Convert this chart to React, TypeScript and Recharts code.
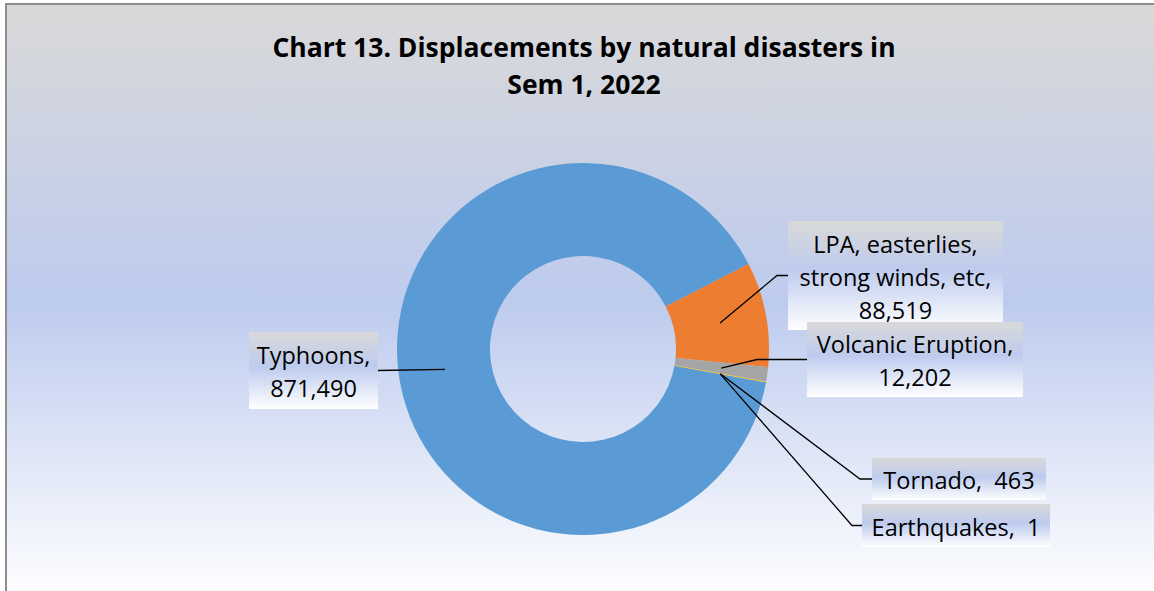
import React from "react";
import { PieChart, Pie, Cell } from "recharts";

const CATEGORY_LINES = [
  ["Typhoons"],
  ["LPA, easterlies", "strong winds, etc"],
  ["Volcanic Eruption"],
  ["Tornado"],
  ["Earthquakes"],
];
const CATEGORIES = CATEGORY_LINES.map((l) => l.join(", "));
const VALUES = [871490, 88519, 12202, 463, 1];
const COLORS = ["#5B9BD5", "#ED7D31", "#A5A5A5", "#FFC000", "#4472C4"];

const TITLE = ["Chart 13. Displacements by natural disasters in", "Sem 1, 2022"];

// label box layout, chart coordinates
const LABEL_BOXES = [
  { x: 242, y: 327, w: 129, h: 77, side: "right", elbow: 0, inline: false },
  { x: 781, y: 216, w: 215, h: 109, side: "left", elbow: 11, inline: false },
  { x: 800, y: 317, w: 216, h: 75, side: "left", elbow: 50, inline: false },
  { x: 865, y: 453, w: 174, h: 42, side: "left", elbow: 12, inline: true },
  { x: 855, y: 499, w: 188, h: 43, side: "left", elbow: 10, inline: true },
];

const W = 1152;
const H = 590;
const FONT = "'Open Sans', sans-serif";
const RAD = Math.PI / 180;

const data = CATEGORIES.map((name, i) => ({ name, value: VALUES[i] }));

function renderLabel(props: any) {
  const { cx, cy, midAngle, innerRadius, outerRadius, index, value } = props;
  const box = LABEL_BOXES[index];
  const r = (innerRadius + outerRadius) / 2;
  const ax = cx + r * Math.cos(-midAngle * RAD);
  const ay = cy + r * Math.sin(-midAngle * RAD);
  const ly = box.y + box.h / 2;
  const lx = box.side === "left" ? box.x : box.x + box.w;
  const ex = box.side === "left" ? lx - box.elbow : lx + box.elbow;

  const valueText = value.toLocaleString("en-US");
  const nameLines = CATEGORY_LINES[index].map((l) => l + ",");
  const lines = box.inline
    ? [nameLines.join(" ") + "  " + valueText]
    : [...nameLines, valueText];
  const lh = 33;
  const first = ly - ((lines.length - 1) * lh) / 2 + 1;

  return (
    <g key={`lbl-${index}`}>
      <polyline
        points={`${lx},${ly} ${ex},${ly} ${ax},${ay}`}
        fill="none"
        stroke="#000"
        strokeWidth={1.3}
      />
      <rect x={box.x} y={box.y} width={box.w} height={box.h} fill="url(#boxGrad)" />
      {lines.map((t, i) => (
        <text
          key={i}
          x={box.x + box.w / 2}
          y={first + i * lh}
          textAnchor="middle"
          dominantBaseline="central"
          fontFamily={FONT}
          fontSize={23.5}
          fill="#000"
          style={{ whiteSpace: "pre" }}
        >
          {t}
        </text>
      ))}
    </g>
  );
}

export default function App() {
  return (
    <div
      style={{
        position: "fixed",
        left: 0,
        top: 0,
        width: 1154,
        height: 591,
        overflow: "hidden",
        background: "#fff",
      }}
    >
      <div
        style={{
          position: "absolute",
          left: 5,
          top: 3,
          width: W + 4,
          height: H + 4,
          border: "2px solid #8E8E8E",
          background:
            "linear-gradient(to bottom, #D9D9D9 0%, #BDCBEE 50%, #FFFFFF 100%)",
        }}
      >
        <PieChart
          width={W}
          height={H}
          margin={{ top: 0, right: 0, bottom: 0, left: 0 }}
          style={{ position: "absolute", left: 0, top: 0 }}
        >
          <defs>
            <linearGradient id="boxGrad" x1="0" y1="0" x2="0" y2="1">
              <stop offset="0%" stopColor="#D9D9D9" />
              <stop offset="45%" stopColor="#BDCBEE" />
              <stop offset="100%" stopColor="#FFFFFF" />
            </linearGradient>
          </defs>
          {TITLE.map((t, i) => (
            <text
              key={t}
              x={577}
              y={42 + i * 37}
              textAnchor="middle"
              dominantBaseline="central"
              fontFamily={FONT}
              fontWeight="bold"
              fontSize={26.5}
              fill="#000"
            >
              {t}
            </text>
          ))}
          <Pie
            data={data}
            dataKey="value"
            nameKey="name"
            cx={576}
            cy={344}
            innerRadius={93}
            outerRadius={186}
            startAngle={-10.3}
            endAngle={-370.3}
            stroke="none"
            labelLine={false}
            label={renderLabel}
            isAnimationActive={false}
          >
            {data.map((d, i) => (
              <Cell key={d.name} fill={COLORS[i]} />
            ))}
          </Pie>
        </PieChart>
      </div>
    </div>
  );
}
